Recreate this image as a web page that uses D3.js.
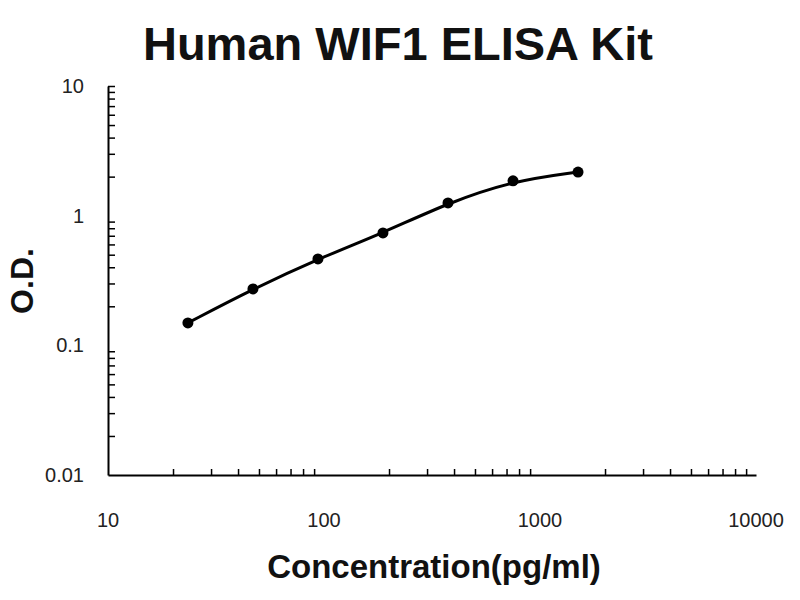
<!DOCTYPE html>
<html lang="en">
<head>
    <meta charset="UTF-8">
    <script src="https://d3js.org/d3.v7.min.js"></script>
    <title>Human WIF1 ELISA Kit</title>
    <style>
        body { margin: 0; background: #fff; }
        text { font-family: "Liberation Sans", Arial, sans-serif; }
    </style>
</head>
<body>
    <div id="viz"></div>
    <script>
        // standard curve values
        const concentrations = [23.44, 46.88, 93.75, 187.5, 375, 750, 1500]
        const odValues = [0.149, 0.272, 0.464, 0.736, 1.254, 1.855, 2.17]
        const xTickValues = [10, 100, 1000, 10000]
        const yTickValues = [0.01, 0.1, 1, 10]
        const xTickLabels = ["10", "100", "1000", "10000"]
        const yTickLabels = ["0.01", "0.1", "1", "10"]

        const width = 800
        const height = 600
        const margin = {top: 86, left: 108, right: 44, bottom: 125}

        const svg = d3.select("#viz")
            .append("svg")
            .attr("width", width)
            .attr("height", height)

        const xScale = d3.scaleLog()
            .domain([10, 10000])
            .range([margin.left, width - margin.right])

        const yScale = d3.scaleLog()
            .domain([0.01, 10])
            .range([height - margin.bottom, margin.top])

        // minor ticks 2..9 within each decade
        const minorTicks = domain => {
            const out = []
            for (let d = domain[0]; d < domain[1]; d *= 10) {
                for (let k = 2; k <= 9; k++) out.push(d * k)
            }
            return out
        }

        // x axis (ticks point inward / up)
        svg.append("g")
            .attr("transform", `translate(0,${height - margin.bottom})`)
            .call(d3.axisBottom(xScale).tickValues(minorTicks(xScale.domain())).tickSize(-6).tickSizeOuter(0).tickFormat(""))
            .call(g => g.select(".domain").attr("stroke-width", 2))
            .call(g => g.selectAll(".tick line").attr("stroke-width", 1.5))

        // y axis (ticks point inward / right)
        svg.append("g")
            .attr("transform", `translate(${margin.left},0)`)
            .call(d3.axisLeft(yScale).tickValues(minorTicks(yScale.domain()).concat([10])).tickSize(-7).tickSizeOuter(0).tickFormat(""))
            .call(g => g.select(".domain").attr("stroke-width", 2))
            .call(g => g.selectAll(".tick line").attr("stroke-width", 1.5))

        // tick labels
        svg.selectAll(".xlab")
            .data(xTickValues)
            .enter()
            .append("text")
            .attr("x", d => xScale(d))
            .attr("y", height - margin.bottom + 52)
            .attr("text-anchor", "middle")
            .attr("font-size", 20)
            .attr("fill", "#222")
            .text((d, i) => xTickLabels[i])

        svg.selectAll(".ylab")
            .data(yTickValues)
            .enter()
            .append("text")
            .attr("x", margin.left - 24)
            .attr("y", d => yScale(d) + 7)
            .attr("text-anchor", "end")
            .attr("font-size", 20)
            .attr("fill", "#222")
            .text((d, i) => yTickLabels[i])

        // fitted curve
        const lineGen = d3.line()
            .x(d => xScale(d[0]))
            .y(d => yScale(d[1]))
            .curve(d3.curveBasis)

        svg.append("path")
            .datum(d3.zip(concentrations, odValues))
            .attr("d", lineGen)
            .attr("fill", "none")
            .attr("stroke", "black")
            .attr("stroke-width", 3)

        svg.selectAll(".pt")
            .data(d3.zip(concentrations, odValues))
            .enter()
            .append("circle")
            .attr("cx", d => xScale(d[0]))
            .attr("cy", d => yScale(d[1]))
            .attr("r", 5.5)
            .attr("fill", "black")

        // titles
        svg.append("text")
            .attr("x", 398)
            .attr("y", 60)
            .attr("text-anchor", "middle")
            .attr("font-size", 47)
            .attr("font-weight", "bold")
            .attr("fill", "#111")
            .text("Human WIF1 ELISA Kit")

        svg.append("text")
            .attr("x", 434)
            .attr("y", 578)
            .attr("text-anchor", "middle")
            .attr("font-size", 33)
            .attr("font-weight", "bold")
            .attr("fill", "#111")
            .text("Concentration(pg/ml)")

        svg.append("text")
            .attr("transform", "translate(33,281) rotate(-90)")
            .attr("text-anchor", "middle")
            .attr("font-size", 32)
            .attr("font-weight", "bold")
            .attr("fill", "#111")
            .text("O.D.")
    </script>
</body>
</html>
